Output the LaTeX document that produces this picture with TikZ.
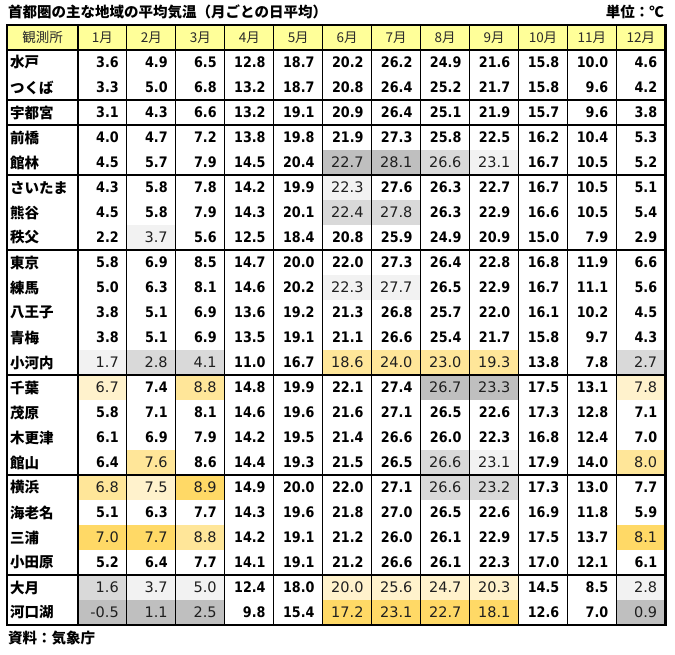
\documentclass[tikz,border=0pt]{standalone}
\usepackage{fontspec}
\newfontfamily\jp{Noto Sans CJK JP}
\newfontfamily\numbf[FakeStretch=0.88]{DejaVu Sans Bold}
\newfontfamily\numrg{DejaVu Sans}
\definecolor{hdr}{HTML}{FFFF99}
\definecolor{G1}{HTML}{F2F2F2}
\definecolor{G2}{HTML}{D9D9D9}
\definecolor{G3}{HTML}{BFBFBF}
\definecolor{Y1}{HTML}{FFF2CC}
\definecolor{Y2}{HTML}{FFE699}
\definecolor{Y3}{HTML}{FFD966}
\definecolor{hdrtext}{HTML}{2A2A2A}
\tikzset{
  titletext/.style={inner sep=0pt,font=\jp\bfseries\fontsize{14.5}{16}\selectfont},
  hdrcell/.style={inner sep=0pt,text=hdrtext,font=\jp\fontsize{13.5}{15}\selectfont},
  stn/.style={anchor=west,inner sep=0pt,font=\jp\bfseries\fontsize{14.5}{16}\selectfont},
  numb/.style={anchor=east,inner sep=0pt,font=\numbf\fontsize{14.5}{16}\selectfont},
  numl/.style={anchor=east,inner sep=0pt,text=black!88,font=\numrg\fontsize{14.5}{16}\selectfont},
  thin/.style={line width=1pt},
  grp/.style={line width=1.4pt},
  thick/.style={line width=2.2pt},
}
\begin{document}
\begin{tikzpicture}[x=1pt,y=-1pt]
\useasboundingbox (0,0) rectangle (675,654);
\fill[white] (0,0) rectangle (675,654);
% header fill
\fill[hdr] (7,25) rectangle (665.4,50);
% shaded cells
\foreach \r/\c/\cl in {5/6/G3,5/7/G3,5/8/G2,5/9/G1,
  6/6/G1,7/6/G2,7/7/G2,8/2/G1,10/6/G1,10/7/G1,
  13/1/G1,13/2/G2,13/3/G2,13/6/Y2,13/7/Y2,13/8/Y2,13/9/Y2,13/12/G2,
  14/1/Y1,14/3/Y2,14/8/G3,14/9/G3,14/12/Y1,
  17/2/Y2,17/8/G2,17/9/G1,17/12/Y2,
  18/1/Y2,18/2/Y1,18/3/Y3,18/8/G2,18/9/G2,
  20/1/Y3,20/2/Y3,20/3/Y2,20/12/Y3,
  22/1/G2,22/2/G1,22/3/G1,22/6/Y1,22/7/Y1,22/8/Y1,22/9/Y1,22/12/G1,
  23/1/G3,23/2/G3,23/3/G3,23/6/Y3,23/7/Y3,23/8/Y3,23/9/Y3,23/12/G3}{
  \expandafter\gdef\csname sh-\r-\c\endcsname{\cl}
  \fill[\cl] (78+48.95*\c-48.95,25+25*\r) rectangle (78+48.95*\c,50+25*\r);
}
% thin vertical lines
\foreach \c in {1,...,11}{
  \draw[thin] (78+48.95*\c,25) -- (78+48.95*\c,625);
}
% group lines
\foreach \r in {2,3,5,8,13,17,21}{
  \draw[grp] (7,50+25*\r) -- (665.4,50+25*\r);
}
% header bottom and first column divider
\draw[thick] (7,50) -- (665.4,50);
\draw[thick] (78,25) -- (78,625);
% outer border
\draw[thick] (7,25) rectangle (665.4,625);
% title, unit, source
\node[titletext,anchor=west] (title) at (8,12) {首都圏の主な地域の平均気温（月ごとの日平均）};
\node[titletext,anchor=east] (unit) at (664,12) {単位：℃};
\node[titletext,anchor=west] (src) at (8,638) {資料：気象庁};
% header labels
\node[hdrcell] (h0) at (42.5,37.5) {観測所};
\foreach \c in {1,...,12}{
  \node[hdrcell] (h\c) at (78+48.95*\c-24.5,37.5) {\c 月};
}
% rows
\foreach \nm/\vals [count=\r] in {
 水戸/{3.6,4.9,6.5,12.8,18.7,20.2,26.2,24.9,21.6,15.8,10.0,4.6},
 つくば/{3.3,5.0,6.8,13.2,18.7,20.8,26.4,25.2,21.7,15.8,9.6,4.2},
 宇都宮/{3.1,4.3,6.6,13.2,19.1,20.9,26.4,25.1,21.9,15.7,9.6,3.8},
 前橋/{4.0,4.7,7.2,13.8,19.8,21.9,27.3,25.8,22.5,16.2,10.4,5.3},
 館林/{4.5,5.7,7.9,14.5,20.4,22.7,28.1,26.6,23.1,16.7,10.5,5.2},
 さいたま/{4.3,5.8,7.8,14.2,19.9,22.3,27.6,26.3,22.7,16.7,10.5,5.1},
 熊谷/{4.5,5.8,7.9,14.3,20.1,22.4,27.8,26.3,22.9,16.6,10.5,5.4},
 秩父/{2.2,3.7,5.6,12.5,18.4,20.8,25.9,24.9,20.9,15.0,7.9,2.9},
 東京/{5.8,6.9,8.5,14.7,20.0,22.0,27.3,26.4,22.8,16.8,11.9,6.6},
 練馬/{5.0,6.3,8.1,14.6,20.2,22.3,27.7,26.5,22.9,16.7,11.1,5.6},
 八王子/{3.8,5.1,6.9,13.6,19.2,21.3,26.8,25.7,22.0,16.1,10.2,4.5},
 青梅/{3.8,5.1,6.9,13.5,19.1,21.1,26.6,25.4,21.7,15.8,9.7,4.3},
 小河内/{1.7,2.8,4.1,11.0,16.7,18.6,24.0,23.0,19.3,13.8,7.8,2.7},
 千葉/{6.7,7.4,8.8,14.8,19.9,22.1,27.4,26.7,23.3,17.5,13.1,7.8},
 茂原/{5.8,7.1,8.1,14.6,19.6,21.6,27.1,26.5,22.6,17.3,12.8,7.1},
 木更津/{6.1,6.9,7.9,14.2,19.5,21.4,26.6,26.0,22.3,16.8,12.4,7.0},
 館山/{6.4,7.6,8.6,14.4,19.3,21.5,26.5,26.6,23.1,17.9,14.0,8.0},
 横浜/{6.8,7.5,8.9,14.9,20.0,22.0,27.1,26.6,23.2,17.3,13.0,7.7},
 海老名/{5.1,6.3,7.7,14.3,19.6,21.8,27.0,26.5,22.6,16.9,11.8,5.9},
 三浦/{7.0,7.7,8.8,14.2,19.1,21.2,26.0,26.1,22.9,17.5,13.7,8.1},
 小田原/{5.2,6.4,7.7,14.1,19.1,21.2,26.6,26.1,22.3,17.0,12.1,6.1},
 大月/{1.6,3.7,5.0,12.4,18.0,20.0,25.6,24.7,20.3,14.5,8.5,2.8},
 河口湖/{-0.5,1.1,2.5,9.8,15.4,17.2,23.1,22.7,18.1,12.6,7.0,0.9}}{
  \node[stn] (n\r) at (10,37.5+25*\r) {\nm};
  \foreach \v [count=\c] in \vals {
    \ifcsname sh-\r-\c\endcsname
      \node[numl] (r\r c\c) at (78+48.95*\c-8,37.5+25*\r) {\v};
    \else
      \node[numb] (r\r c\c) at (78+48.95*\c-8,37.5+25*\r) {\v};
    \fi
  }
}
\end{tikzpicture}
\end{document}
